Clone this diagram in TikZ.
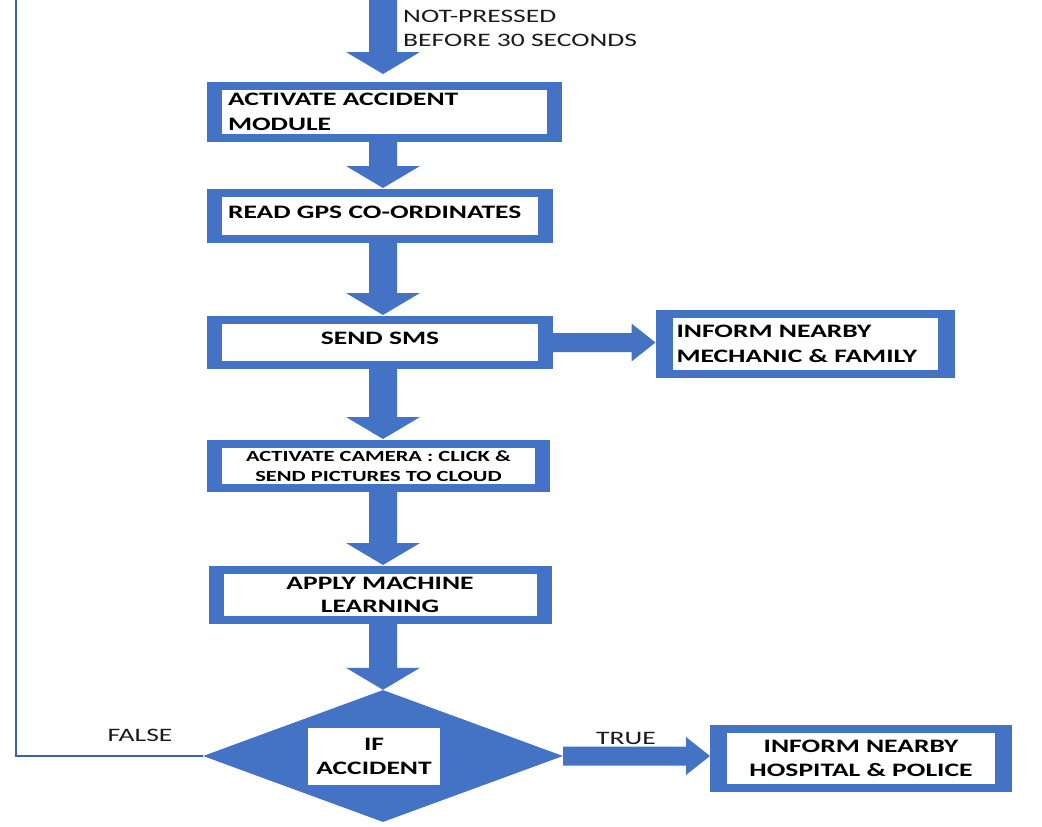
\documentclass[tikz,border=0pt]{standalone}
\usepackage{fontspec}
\setmainfont{Carlito}[FakeStretch=1.45]
\usetikzlibrary{shapes.geometric,calc}
\definecolor{boxblue}{HTML}{4472C4}
\newcommand\vblock[3]{%
  \path (#1 -| col) coordinate (vs) (#2 -| col) coordinate (vt);
  \fill[boxblue] ($(vs)+(-14,0)$) -- ($(vt)+(-14,-22-#3)$) -- ($(vt)+(-37,-22-#3)$) -- ($(vt)+(0,-#3)$)
    -- ($(vt)+(37,-22-#3)$) -- ($(vt)+(14,-22-#3)$) -- ($(vs)+(14,0)$) -- cycle;}
\newcommand\hblock[2]{%
  \path (#1) coordinate (hs) (#2 |- #1) coordinate (ht);
  \fill[boxblue] ($(hs)+(0,-9.5)$) -- ($(ht)+(-24,-9.5)$) -- ($(ht)+(-24,-19)$) -- (ht)
    -- ($(ht)+(-24,19)$) -- ($(ht)+(-24,9.5)$) -- ($(hs)+(0,9.5)$) -- cycle;}
\begin{document}
\begin{tikzpicture}[x=1pt,y=-1pt,
  flowbox/.style={fill=white, draw=boxblue, line width=8pt, inner sep=0pt,
    font=\bfseries\fontsize{19}{25}\selectfont,
    path picture={
      \fill[boxblue] (path picture bounding box.north west) rectangle ([xshift=#1]path picture bounding box.south west);
      \fill[boxblue] (path picture bounding box.north east) rectangle ([xshift=-#1]path picture bounding box.south east);}},
  flowbox/.default=11pt,
  lab/.style={inner sep=0pt, font=\fontsize{19}{24}\selectfont, text=black!90},
]
\fill[white] (0,0) rectangle (1042,827);
\useasboundingbox (0,0) rectangle (1042,827);
\coordinate (col) at (383,0);
\coordinate (top) at (383,0);
\coordinate (loop) at (16,0);

\node[flowbox, minimum width=347, minimum height=52, align=left, text width=313] (b1) at (384.5,112) {ACTIVATE ACCIDENT\\MODULE};
\node[flowbox, minimum width=338, minimum height=46, align=left, text width=304] (b2) at (380,216) {\raisebox{7pt}{READ GPS CO-ORDINATES}};
\node[flowbox, minimum width=338, minimum height=45] (b3) at (380,342.5) {\raisebox{7.5pt}{SEND SMS}};
\node[flowbox=13pt, minimum width=291, minimum height=60, align=left, text width=257] (b4) at (805,344) {INFORM NEARBY\\MECHANIC \& FAMILY};
\node[flowbox, minimum width=335, minimum height=44, align=center, font=\bfseries\fontsize{15.5}{20}\selectfont] (b5) at (378.5,466) {ACTIVATE CAMERA : CLICK \&\\SEND PICTURES TO CLOUD};
\node[flowbox, minimum width=335, minimum height=50, align=center, font=\bfseries\fontsize{19}{23}\selectfont] (b6) at (380,595) {APPLY MACHINE\\LEARNING};
\node[flowbox=13pt, minimum width=294, minimum height=59, align=center, font=\bfseries\fontsize{19}{24}\selectfont] (b7) at (861,758.5) {INFORM NEARBY\\HOSPITAL \& POLICE};

\node[diamond, fill=boxblue, draw=none, inner sep=0pt, minimum width=360, minimum height=132] (d) at (383,756) {};
\node[fill=white, inner sep=0pt, minimum width=132, minimum height=57, align=center, font=\bfseries\fontsize{19}{24}\selectfont] (di) at (374,756.5) {IF\\ACCIDENT};

\vblock{top}{b1.north}{8}
\vblock{b1.south}{b2.north}{1}
\vblock{b2.south}{b3.north}{1}
\vblock{b3.south}{b5.north}{1}
\vblock{b5.south}{b6.north}{1}
\vblock{b6.south}{d.north}{0}
\hblock{b3.east}{b4.west}
\hblock{d.east}{b7.west}

\draw[boxblue!85!black, line width=2.5pt] (d.west) -- (d.west -| loop) -- (loop);

\node[lab, anchor=west, align=left] (np) at (403,28) {NOT-PRESSED\\BEFORE 30 SECONDS};
\node[lab] (f) at (140,735) {FALSE};
\node[lab] (t) at (626,738) {TRUE};
\end{tikzpicture}
\end{document}
